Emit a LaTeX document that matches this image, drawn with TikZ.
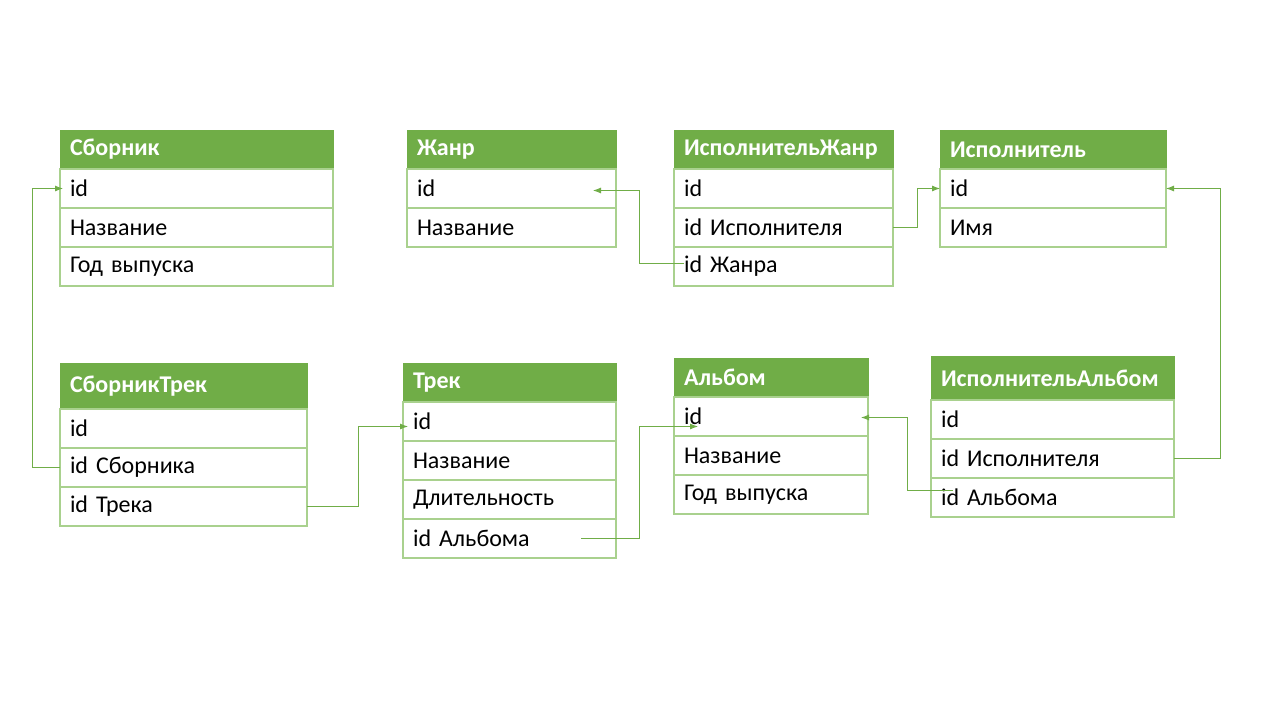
\documentclass[tikz,border=0pt]{standalone}
\usepackage{fontspec}
\setmainfont{Carlito}
\usetikzlibrary{arrows.meta, positioning}

\definecolor{headgreen}{HTML}{70AD47}
\definecolor{rowgreen}{HTML}{A9D18E}

\tikzset{
  head/.style={anchor=north west, fill=headgreen, draw=headgreen, text=white,
    font=\fontsize{24}{28}\selectfont\bfseries, text width=#1, align=left,
    inner xsep=10pt, inner ysep=0pt, outer sep=0pt, minimum height=39pt},
  row/.style={fill=white, draw=rowgreen, line width=1.2pt,
    font=\fontsize{24}{28}\selectfont, text width=#1, align=left,
    inner xsep=10pt, inner ysep=0pt, outer sep=0pt, minimum height=39pt},
  link/.style={draw=headgreen, line width=0.9pt, -{Latex[length=8pt,width=6pt]}}
}

\begin{document}
\begin{tikzpicture}[x=1pt, y=-1pt]
                \useasboundingbox[fill=white] (0,0) rectangle (1280,720);

                % Tables, top row:
                \node[head=253pt] (sb) at (60,130) {Сборник};
                \node[row=253pt, below=0pt of sb] (sb1) {id};
                \node[row=253pt, below=0pt of sb1] (sb2) {Название};
                \node[row=253pt, below=0pt of sb2] (sb3) {Год выпуска};

                \node[head=189pt] (zh) at (407,130) {Жанр};
                \node[row=189pt, below=0pt of zh] (zh1) {id};
                \node[row=189pt, below=0pt of zh1] (zh2) {Название};

                \node[head=199pt] (ij) at (674,130) {ИсполнительЖанр};
                \node[row=199pt, below=0pt of ij] (ij1) {id};
                \node[row=199pt, below=0pt of ij1] (ij2) {id Исполнителя};
                \node[row=199pt, below=0pt of ij2] (ij3) {id Жанра};

                \node[head=206pt] (is) at (940,130) {Исполнитель};
                \node[row=206pt, below=0pt of is] (is1) {id};
                \node[row=206pt, below=0pt of is1] (is2) {Имя};

                % Tables, bottom row:
                \node[head=227pt, minimum height=46pt] (sbt) at (60,363) {СборникТрек};
                \node[row=227pt, below=0pt of sbt] (sbt1) {id};
                \node[row=227pt, below=0pt of sbt1] (sbt2) {id Сборника};
                \node[row=227pt, below=0pt of sbt2] (sbt3) {id Трека};

                \node[head=193pt] (tr) at (403,363) {Трек};
                \node[row=193pt, below=0pt of tr] (tr1) {id};
                \node[row=193pt, below=0pt of tr1] (tr2) {Название};
                \node[row=193pt, below=0pt of tr2] (tr3) {Длительность};
                \node[row=193pt, below=0pt of tr3] (tr4) {id Альбома};

                \node[head=174pt] (al) at (674,358) {Альбом};
                \node[row=174pt, below=0pt of al] (al1) {id};
                \node[row=174pt, below=0pt of al1] (al2) {Название};
                \node[row=174pt, below=0pt of al2] (al3) {Год выпуска};

                \node[head=223pt, minimum height=44pt] (ia) at (931,356) {ИсполнительАльбом};
                \node[row=223pt, below=0pt of ia] (ia1) {id};
                \node[row=223pt, below=0pt of ia1] (ia2) {id Исполнителя};
                \node[row=223pt, below=0pt of ia2] (ia3) {id Альбома};

                % Links:
                \draw[link] (sbt2.west) -- ++(-28,0) |- ([xshift=3pt]sb1.west);
                \draw[link] (sbt3.east) -- ++(51,0) |- ([xshift=5pt,yshift=-5pt]tr1.west);
                \draw[link] ([xshift=-35pt]tr4.east) -- ++(58,0) |- ([xshift=24pt,yshift=-10pt]al1.west);
                \draw[link] ([xshift=22pt,yshift=7pt]ia3.west) -- ++(-46,0) |- ([xshift=-7pt,yshift=-1pt]al1.east);
                \draw[link] (ia2.east) -- ++(46,0) |- (is1.east);
                \draw[link] (ij2.east) -- ++(24,0) |- (is1.west);
                \draw[link] ([xshift=10pt,yshift=3pt]ij3.west) -- ++(-45,0) |- ([xshift=-23pt,yshift=-2pt]zh1.east);
\end{tikzpicture}
\end{document}
